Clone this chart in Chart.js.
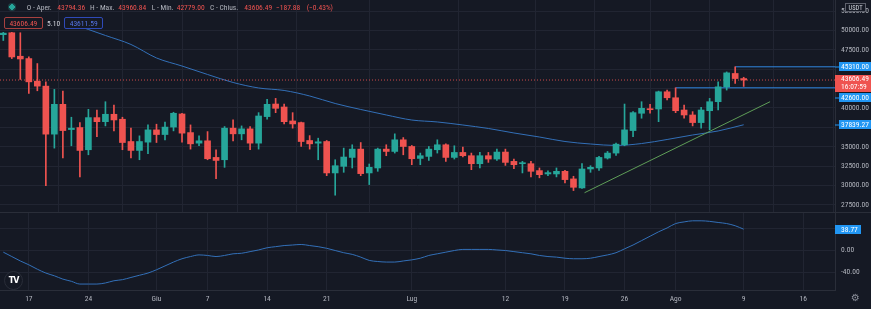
<!DOCTYPE html>
<html><head><meta charset="utf-8">
<script src="https://cdn.jsdelivr.net/npm/chart.js@4.4.1/dist/chart.umd.min.js"></script>
<style>
html,body{margin:0;padding:0;background:#151924;width:871px;height:309px;overflow:hidden;}
#wrap{position:relative;width:871px;height:309px;}
canvas{position:absolute;left:0;}
#cA{top:0;width:871px;height:212px;}
#cB{top:213px;width:871px;height:96px;}
.ov{position:absolute;font-family:'Liberation Sans Narrow','Roboto Condensed','Arial Narrow',Roboto,sans-serif;font-size:7.5px;white-space:nowrap;line-height:9px;}
.g{color:#b2b5be;}
.r{color:#ef5350;}
.sep{position:absolute;left:0;width:871px;height:1px;background:#2a2e39;}
.box{position:absolute;box-sizing:border-box;border-radius:2px;text-align:center;line-height:11px;background:#151924;}
#dot{position:absolute;left:8px;top:3px;width:8px;height:8px;border-radius:50%;background:radial-gradient(circle,#26a69a 0 2.6px,rgba(38,166,154,0.3) 2.8px 4px);}
#logo{position:absolute;left:4px;top:271px;width:17px;height:17px;border-radius:50%;border:1px solid #2a2e39;background:#151924;color:#fff;font:bold 8px 'DejaVu Sans',sans-serif;text-align:center;line-height:17px;letter-spacing:-1px;}
#gear{position:absolute;left:851px;top:292px;color:#8a8e99;font:10px 'DejaVu Sans',sans-serif;}
</style>
</head><body>
<div id="wrap">
<canvas id="cA" width="871" height="212"></canvas>
<canvas id="cB" width="871" height="96"></canvas>
<div class="sep" style="top:212px"></div>

<div id="dot"></div>
<div class="ov g" style="left:26.7px;top:3px">O - Aper.</div>
<div class="ov r" style="left:57.3px;top:3px">43794.36</div>
<div class="ov g" style="left:90px;top:3px">H - Max.</div>
<div class="ov r" style="left:118.3px;top:3px">43960.84</div>
<div class="ov g" style="left:151.7px;top:3px">L - Min.</div>
<div class="ov r" style="left:176.7px;top:3px">42779.00</div>
<div class="ov g" style="left:210px;top:3px">C - Chius.</div>
<div class="ov r" style="left:244.3px;top:3px">43606.49</div>
<div class="ov r" style="left:276px;top:3px">−187.88</div>
<div class="ov r" style="left:306.7px;top:3px">(−0.43%)</div>

<div class="ov box r" style="left:4px;top:16.7px;width:38.7px;height:12.6px;border:1px solid #a8413f;">43606.49</div>
<div class="ov" style="left:47px;top:18.5px;color:#d1d4dc;">5.10</div>
<div class="ov box" style="left:64px;top:16.7px;width:39.3px;height:12.6px;border:1px solid #2f4ab8;color:#5574e6;">43611.59</div>

<div id="logo">TV</div>
<div id="gear">⚙</div>
</div>

<script>
// ---------- DATA (BTC/USDT daily, 14 May 2021 -> 9 Aug 2021) ----------
const startDate = '2021-05-14';
const opens = [49450,49700,46670,46370,43460,42820,36630,40470,37220,37480,
  34620,38760,38240,39190,38550,35680,34530,35600,37180,36580,
  37540,39230,36830,35470,35770,33630,33330,37400,36670,37310,
  35470,38890,40510,40130,38330,38120,35810,35470,35680,31630,
  32480,33630,34700,31630,32270,34700,34400,35900,35040,33500,
  33760,34620,35260,33630,34270,33850,32820,33850,33420,34320,
  33120,32820,32820,31930,31500,31500,31840,30860,29700,32140,
  32270,33550,34190,35260,37090,39320,39910,39870,42090,41320,
  39740,39100,38120,39650,40810,42730,44450,43794.36];
const highs = [49750,49750,49700,46580,45730,43370,42400,42180,38810,38120,
  39830,39740,40810,40380,38810,37400,36410,37820,37910,38180,
  39450,39320,37820,36410,36960,34620,37610,38460,37690,37610,
  39400,41120,41240,40510,39400,38200,36440,36110,35810,33330,
  34830,35260,35550,32780,34830,35260,36670,36190,35170,34190,
  35040,35900,35380,35130,34960,34190,34270,34270,34700,34700,
  33420,33120,33120,32270,31900,32270,31970,31200,32820,32560,
  33760,34400,35470,40510,39530,40810,40470,42180,42310,42600,
  40380,39530,40090,41240,43370,44650,45310,43960.84];
const lows = [48700,46370,43680,41880,42220,30000,34830,33550,35130,31120,
  33970,36320,37690,37050,34620,33550,33330,34100,35550,35900,
  37050,35600,34700,35130,33330,30900,32350,35770,35900,34620,
  34700,38550,39400,37950,37400,35040,34700,33330,31280,28760,
  31710,32270,31280,30130,31840,33850,34190,33970,32690,32690,
  33240,34190,33120,33420,33680,32050,32270,32990,33250,32600,
  32180,31630,31120,31000,31280,31120,30350,29360,29620,31710,
  31970,33420,33890,35130,36320,38680,39320,38240,41030,39400,
  38680,37690,37400,37180,39740,42310,43170,42779];
const closes = [49650,46580,46320,43370,42820,36630,40470,37090,37400,34530,
  38760,38240,39190,38460,35550,34530,35680,37180,36580,37540,
  39320,36760,35380,35770,33460,33240,37400,36670,37310,35470,
  38970,40470,39960,38240,37950,35680,35380,35640,31630,32560,
  33680,34700,31540,32350,34700,34400,35900,35040,33460,33850,
  34700,35260,33630,34270,33850,32820,33850,33420,34320,32990,
  32690,32950,31840,31410,31670,31840,30770,29780,32140,32350,
  33630,34190,35340,37180,39400,39960,39780,42090,41320,39650,
  39100,38120,39740,40810,42730,44530,43794.36,43606.49];
// moving average (read every 3rd day)
const maValues = [null,null,null,null,null,null,null,null,50930,null,
  50120,null,49350,null,null,48190,null,null,46450,null,
  null,45410,null,null,44320,null,null,43290,null,null,
  42580,null,null,42260,null,null,41550,null,null,40580,
  null,null,39810,null,null,39100,null,null,38450,null,
  null,38200,null,null,37810,null,null,37360,null,null,
  36780,null,null,36260,null,null,35680,null,null,35360,
  null,null,35170,null,null,35420,null,null,35940,null,
  null,36520,null,null,37040,null,null,37839.27];
// lower-pane oscillator
const oscValues = [-3,-11,-19,-26,-34,-41,-46,-52,-56,-61,
  -61,-61,-59,-55,-53,-49,-45,-41,-35,-28,
  -21,-15,-11,-8,-9,-11,-9,-6,-5,-2,
  1,5,7,9,10,11,9,7,4,0,
  -4,-7,-12,-18,-20,-21,-21,-19,-17,-14,
  -9,-6,-3,0,2,2,2,2,1,0,
  -2,-4,-6,-9,-11,-12,-14,-15,-15,-14,
  -11,-8,-4,3,10,18,26,34,41,49,
  52,54,54,53,51,49,45,38.77];
// trend line (day index, price)
const trendDays = [68.3, 90.1];
const trendPrices = [29080, 40810];
// horizontal levels: [start day, price]
const levelStarts = [86, 79];
const levelPrices = [45310, 42600];
const lastClose = 43606.49;
const countdown = '16:07:59';
const maLast = 37839.27;
const oscLast = 38.77;
// time axis
const tickIdx = [3,10,18,24,31,38,48,59,66,73,79,87,94];
const tickLabels = ['17','24','Giu','7','14','21','Lug','12','19','26','Ago','9','16'];
const priceTicks = [27500,30000,32500,35000,37500,40000,42500,45000,47500,50000,52500];
const hiddenPriceTicks = [37500,42500,45000];
const oscTicks = [-40,0,40];

// ---------- STYLE ----------
const FONT_FAMILY = "'Liberation Sans Narrow','Roboto Condensed','Arial Narrow',Roboto,sans-serif";
Chart.defaults.font.family = FONT_FAMILY;
Chart.defaults.font.size = 7.5;
Chart.defaults.color = '#b2b5be';
const UP = '#26a69a', DOWN = '#ef5350';
const GRID = '#212532', SEP = '#2a2e39';
const X_MIN = -0.388, X_MAX = 97.73;

const colors = opens.map((o,i) => closes[i] >= o ? UP : DOWN);

function noPad(s){ s.paddingTop = 0; s.paddingBottom = 0; s.paddingLeft = 0; s.paddingRight = 0; }

function xScale(show){
  return {
    type:'linear', min:X_MIN, max:X_MAX, offset:false,
    afterBuildTicks: s => { s.ticks = tickIdx.map(v => ({value:v})); },
    afterFit: s => { s.height = show ? 19 : 0; noPad(s); },
    grid:{color:GRID, drawTicks:false},
    border:{display:show, color:SEP},
    ticks:{display:show, autoSkip:false, maxRotation:0, padding:5,
      callback: v => { const i = tickIdx.indexOf(v); return i < 0 ? '' : tickLabels[i]; }}
  };
}

function tag(ctx, R, W, cy, text, fill, tick, right){
  const h = 9;
  const bx = tick ? R + 4 : R;
  ctx.fillStyle = fill;
  if (tick) ctx.fillRect(R, Math.round(cy) - 0.5, 4, 1);
  ctx.fillRect(bx, Math.round(cy - h/2), (right || W) - bx, h);
  ctx.fillStyle = '#ffffff';
  ctx.fillText(text, R + 6, cy + 0.5);
}

const priceTags = {
  id:'priceTags',
  afterDraw(chart){
    const ctx = chart.ctx, y = chart.scales.y, R = chart.chartArea.right, W = chart.width;
    ctx.save();
    ctx.font = '7.5px ' + FONT_FAMILY;
    ctx.textBaseline = 'middle'; ctx.textAlign = 'left';
    tag(ctx, R, W, y.getPixelForValue(levelPrices[0]), levelPrices[0].toFixed(2), '#2196f3', true);
    const top = y.getPixelForValue(lastClose) - 5;
    ctx.fillStyle = DOWN;
    ctx.fillRect(R, Math.round(top), W - R, 17);
    ctx.fillStyle = '#ffffff';
    ctx.fillText(lastClose.toFixed(2), R + 6, top + 4.5);
    ctx.fillText(countdown, R + 6, top + 12.5);
    const cy2 = Math.max(y.getPixelForValue(levelPrices[1]), top + 17 + 5.5);
    tag(ctx, R, W, cy2, levelPrices[1].toFixed(2), '#2196f3', true);
    tag(ctx, R, W, y.getPixelForValue(maLast), maLast.toFixed(2), '#2196f3', true);
    // USDT box
    ctx.fillStyle = '#151924';
    ctx.fillRect(845, 3, 21, 9);
    ctx.strokeStyle = '#5d606b'; ctx.lineWidth = 1;
    ctx.strokeRect(845.5, 3.5, 20, 8);
    ctx.fillStyle = '#d1d4dc'; ctx.font = '6.5px ' + FONT_FAMILY; ctx.textAlign = 'center';
    ctx.fillText('USDT', 855.5, 8);
    ctx.restore();
  }
};

const oscTag = {
  id:'oscTag',
  afterDraw(chart){
    const ctx = chart.ctx, y = chart.scales.y, R = chart.chartArea.right;
    ctx.save();
    ctx.font = '7.5px ' + FONT_FAMILY;
    ctx.textBaseline = 'middle'; ctx.textAlign = 'left';
    tag(ctx, R, chart.width, y.getPixelForValue(oscLast), oscLast.toFixed(2), '#2196f3', false, R + 26);
    ctx.restore();
  }
};

// ---------- MAIN PANE ----------
new Chart(document.getElementById('cA'), {
  type:'bar',
  data:{ datasets:[
    { label:'body', data: opens.map((o,i) => ({x:i, y:[Math.min(o,closes[i]), Math.max(o,closes[i])]})),
      backgroundColor: colors, barThickness:6, grouped:false, minBarLength:1, borderWidth:0 },
    { label:'wick', data: opens.map((o,i) => ({x:i, y:[lows[i], highs[i]]})),
      backgroundColor: colors, barThickness:1, grouped:false, minBarLength:1, borderWidth:0 },
    { type:'line', label:'last', data:[{x:X_MIN,y:lastClose},{x:X_MAX,y:lastClose}],
      borderColor:'rgba(239,83,80,0.85)', borderWidth:1, borderDash:[1,2], pointRadius:0 },
    { type:'line', label:'lvl1', data:[{x:levelStarts[0],y:levelPrices[0]},{x:X_MAX,y:levelPrices[0]}],
      borderColor:'#2f86e0', borderWidth:1, pointRadius:0 },
    { type:'line', label:'lvl2', data:[{x:levelStarts[1],y:levelPrices[1]},{x:X_MAX,y:levelPrices[1]}],
      borderColor:'#2f86e0', borderWidth:1, pointRadius:0 },
    { type:'line', label:'trend', data: trendDays.map((d,i) => ({x:d, y:trendPrices[i]})),
      borderColor:'#5f9e58', borderWidth:1, pointRadius:0 },
    { type:'line', label:'MA', data: maValues.map((v,i) => ({x:i, y:v})).filter(p => p.y !== null),
      borderColor:'#3370b8', borderWidth:1, pointRadius:0, cubicInterpolationMode:'monotone' }
  ]},
  options:{
    animation:false, responsive:false, maintainAspectRatio:false,
    layout:{padding:0},
    plugins:{legend:{display:false}, tooltip:{enabled:false}},
    scales:{
      x: xScale(false),
      y:{ position:'right', min:26595, max:53920,
        afterBuildTicks: s => { s.ticks = priceTicks.map(v => ({value:v})); },
        afterFit: s => { s.width = 36; noPad(s); },
        grid:{color:GRID, drawTicks:false},
        border:{display:true, color:SEP},
        ticks:{padding:6, callback: v => hiddenPriceTicks.includes(v) ? '' : v.toFixed(2)} }
    }
  },
  plugins:[priceTags]
});

// ---------- LOWER PANE ----------
new Chart(document.getElementById('cB'), {
  type:'line',
  data:{ datasets:[
    { label:'osc', data: oscValues.map((v,i) => ({x:i, y:v})),
      borderColor:'#3370b8', borderWidth:1, pointRadius:0, cubicInterpolationMode:'monotone' }
  ]},
  options:{
    animation:false, responsive:false, maintainAspectRatio:false,
    layout:{padding:0},
    plugins:{legend:{display:false}, tooltip:{enabled:false}},
    scales:{
      x: xScale(true),
      y:{ position:'right', min:-71.8, max:68.2,
        afterBuildTicks: s => { s.ticks = oscTicks.map(v => ({value:v})); },
        afterFit: s => { s.width = 36; noPad(s); },
        grid:{color:GRID, drawTicks:false},
        border:{display:true, color:SEP},
        ticks:{padding:6, callback: v => v === 40 ? '' : v.toFixed(2)} }
    }
  },
  plugins:[oscTag]
});
</script>
</body></html>
